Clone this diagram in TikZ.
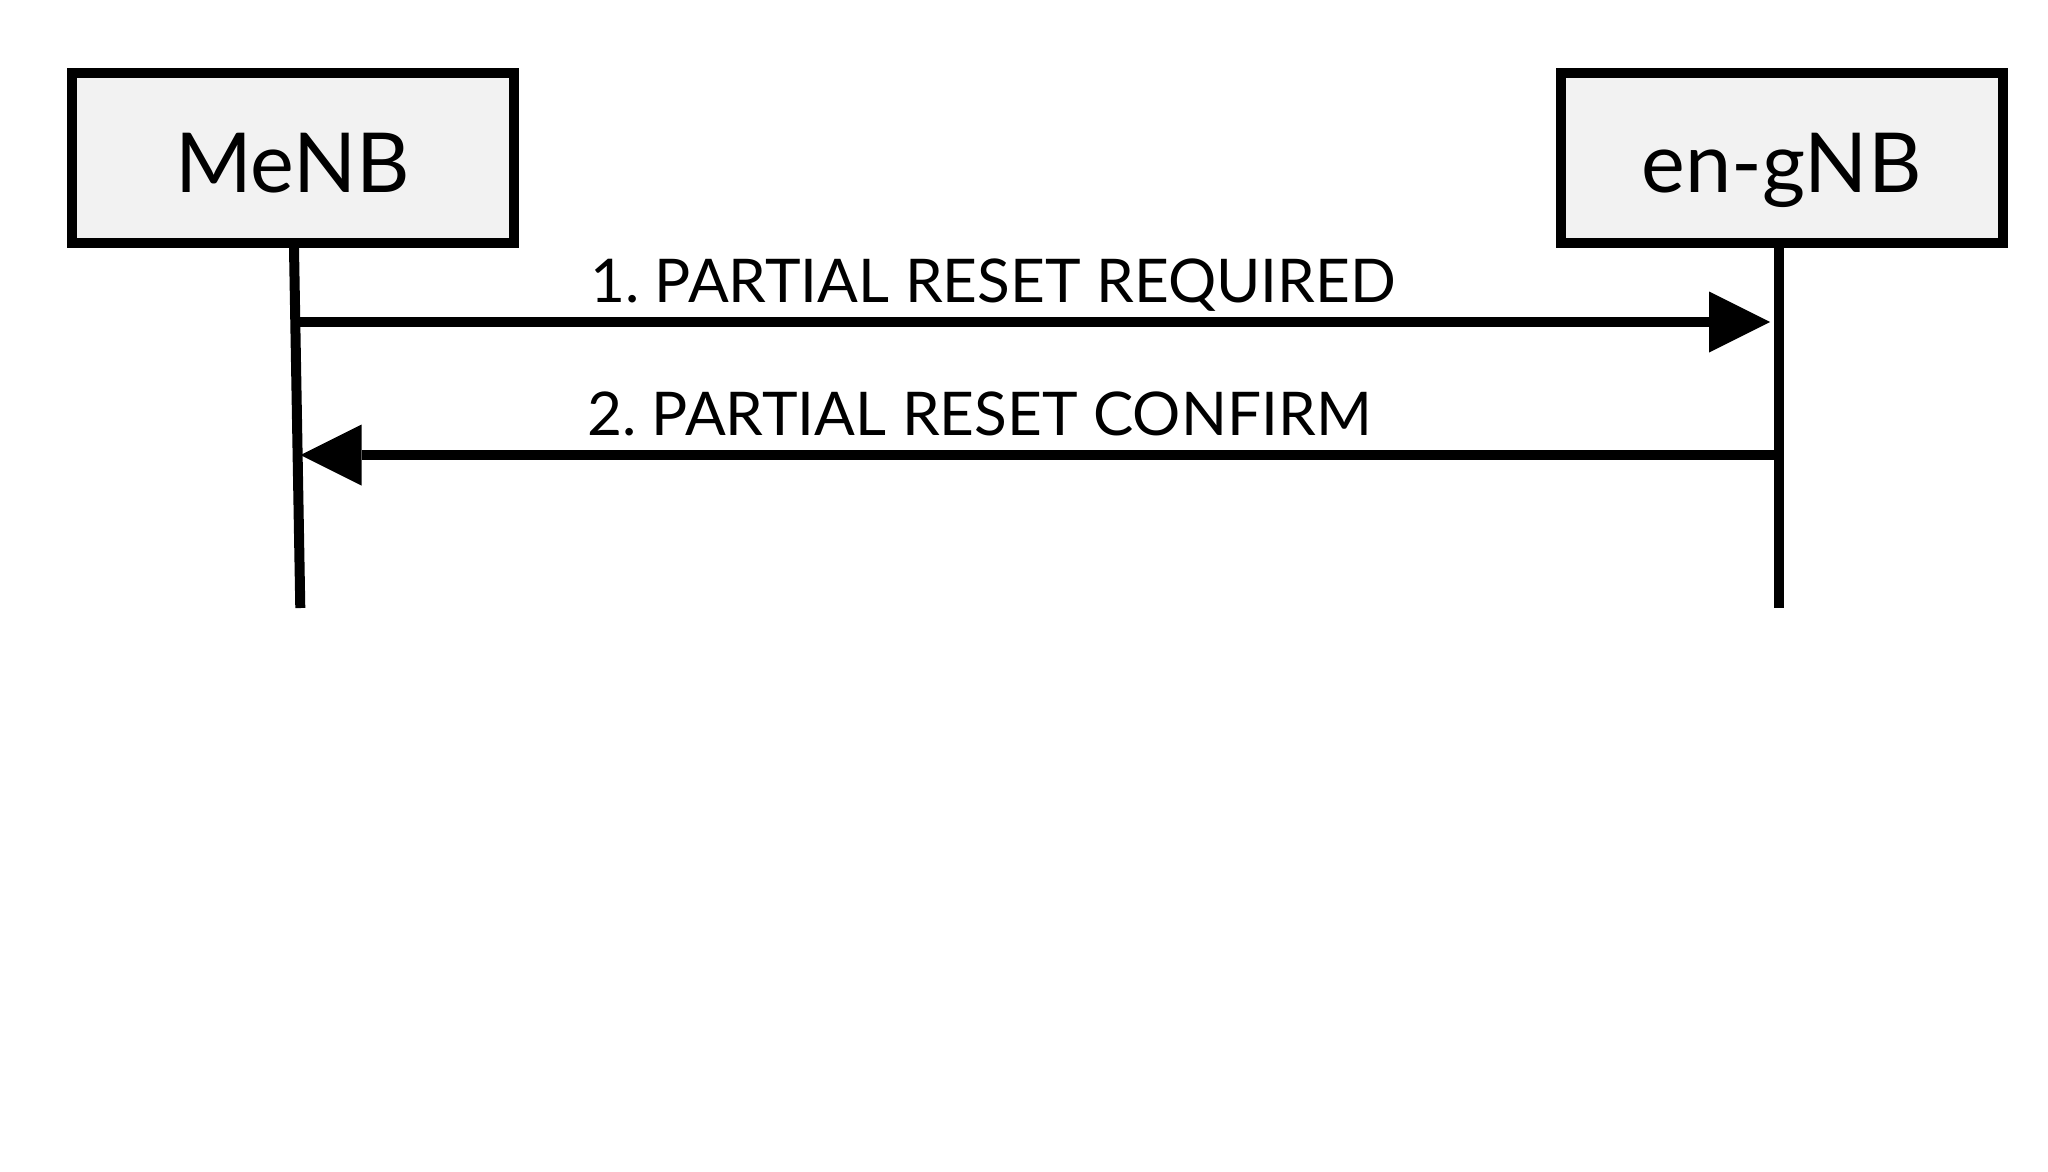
\documentclass[tikz,border=0pt]{standalone}
\usepackage{fontspec}
\setmainfont{Lato}
\usetikzlibrary{arrows.meta}
\definecolor{boxfill}{HTML}{F2F2F2}
\tikzset{
  entity/.style={draw=black, fill=boxfill, line width=10pt, minimum width=441.8pt,
    minimum height=170pt, inner sep=0pt, text height=68pt, text depth=0pt,
    font=\fontsize{82.8}{96}\selectfont},
  lifeline/.style={draw=black, line width=10pt, line cap=butt},
  msg/.style={draw=black, line width=10.5pt, line cap=butt,
    -{Triangle[length=61pt,width=61pt,line width=0pt]}},
  msglabel/.style={anchor=base west, inner sep=0pt, font=\fontsize{60.3}{70}\selectfont\frenchspacing}
}
\begin{document}
\begin{tikzpicture}[x=1pt,y=-1pt]
\useasboundingbox[fill=white] (0,0) rectangle (2048,1171);
\node[entity] (menb) at (292.6,158.3) {MeNB};
\node[entity] (engnb) at (1781.75,158.3) {en-gNB};
\coordinate (menbtop) at (294,248);
\coordinate (menbend) at (300.3,608);
\coordinate (engnbend) at (1779.3,608);
\draw[lifeline] (menbtop) -- (menbend);
\draw[lifeline] (engnb.south -| engnbend) -- (engnbend);
\coordinate (m1s) at (295.2,322);
\coordinate (m1e) at (1770,322);
\coordinate (m2s) at (1779.3,455);
\coordinate (m2e) at (300.5,455);
\draw[msg] (m1s) -- (m1e);
\draw[msg] (m2s) -- (m2e);
\node[msglabel] (l1) at (590,302.7) {1. PARTIAL RESET REQUIRED};
\node[msglabel] (l2) at (587,435) {2. PARTIAL RESET CONFIRM};
\end{tikzpicture}
\end{document}
